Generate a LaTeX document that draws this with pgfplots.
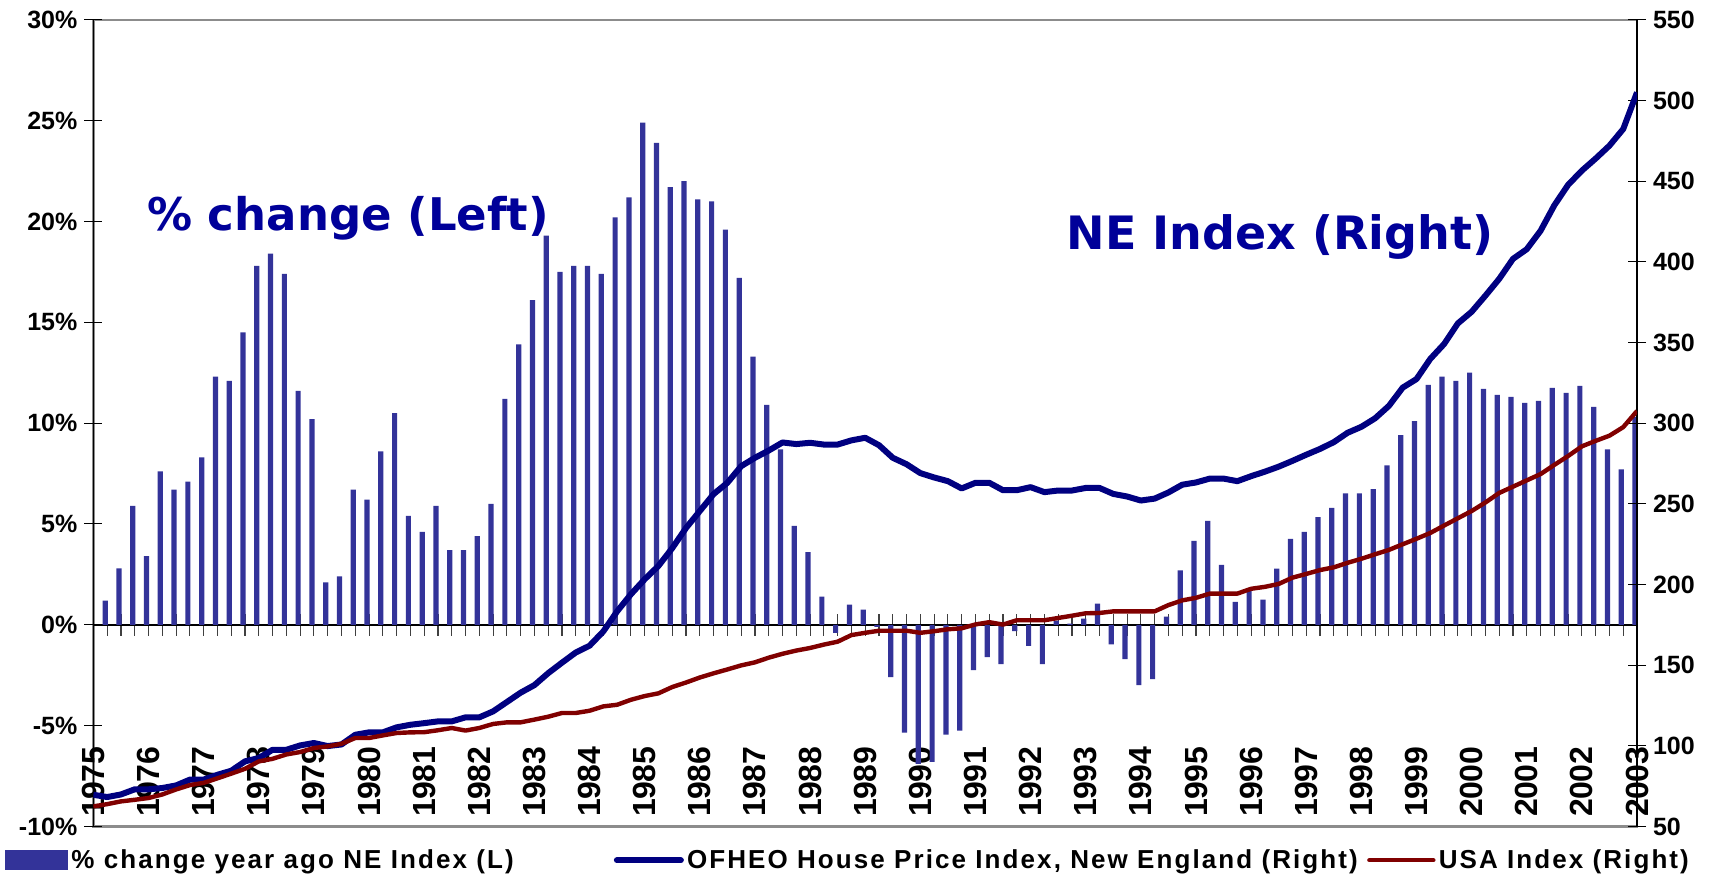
\documentclass[border=0pt]{standalone}
\usepackage{fontspec}
\setmainfont{Liberation Sans}
\newfontfamily\tickfont{Liberation Sans}
\newfontfamily\yearfont{Liberation Sans}[LetterSpace=-2]
\newfontfamily\legfont{Liberation Sans}[LetterSpace=8]
\newfontfamily\annfont{DejaVu Sans}
\usepackage{pgfplots}
\usepackage{pgfplotstable}
\pgfplotsset{compat=1.18}
\definecolor{barblue}{HTML}{333399}
\definecolor{neblue}{HTML}{000080}
\definecolor{usared}{HTML}{800000}
\definecolor{anncol}{HTML}{000099}

\pgfplotstableread{
q v
1 1.2
2 2.8
3 5.9
4 3.4
5 7.6
6 6.7
7 7.1
8 8.3
9 12.3
10 12.1
11 14.5
12 17.8
13 18.4
14 17.4
15 11.6
16 10.2
17 2.1
18 2.4
19 6.7
20 6.2
21 8.6
22 10.5
23 5.4
24 4.6
25 5.9
26 3.7
27 3.7
28 4.4
29 6.0
30 11.2
31 13.9
32 16.1
33 19.3
34 17.5
35 17.8
36 17.8
37 17.4
38 20.2
39 21.2
40 24.9
41 23.9
42 21.7
43 22.0
44 21.1
45 21.0
46 19.6
47 17.2
48 13.3
49 10.9
50 8.7
51 4.9
52 3.6
53 1.4
54 -0.4
55 1.0
56 0.75
57 -0.1
58 -2.6
59 -5.35
60 -6.9
61 -6.8
62 -5.45
63 -5.25
64 -2.25
65 -1.6
66 -1.95
67 -0.32
68 -1.05
69 -1.95
70 0.2
71 0.05
72 0.3
73 1.05
74 -0.97
75 -1.7
76 -3.0
77 -2.7
78 0.4
79 2.7
80 4.16
81 5.15
82 2.97
83 1.13
84 1.7
85 1.25
86 2.78
87 4.26
88 4.6
89 5.34
90 5.79
91 6.52
92 6.52
93 6.72
94 7.9
95 9.4
96 10.1
97 11.9
98 12.3
99 12.1
100 12.5
101 11.7
102 11.4
103 11.3
104 11.0
105 11.1
106 11.75
107 11.5
108 11.85
109 10.8
110 8.7
111 7.7
112 10.3
}\pctdata

\pgfplotstableread{
q ne us
0 69.6 62.4
1 68.2 63.8
2 69.8 65.5
3 73.0 66.5
4 73.0 67.6
5 73.8 69.8
6 75.4 72.9
7 79.0 75.6
8 79.0 77.0
9 82.0 79.8
10 84.5 82.7
11 90.3 85.7
12 92.4 90.3
13 97.5 91.9
14 97.5 94.6
15 100.2 96.1
16 101.7 98.6
17 99.8 99.6
18 100.8 101.2
19 106.8 104.8
20 108.3 104.8
21 108.3 106.4
22 111.4 107.9
23 113.0 108.3
24 114.0 108.4
25 115.1 109.6
26 115.1 111.0
27 117.6 109.4
28 117.6 111.0
29 121.3 113.5
30 127.1 114.5
31 132.9 114.5
32 137.6 116.2
33 145.0 118.0
34 151.5 120.3
35 157.8 120.3
36 162.0 121.7
37 170.9 124.4
38 183.3 125.4
39 193.9 128.5
40 203.2 130.8
41 211.5 132.5
42 222.5 136.4
43 235.0 139.2
44 245.5 142.3
45 256.0 144.9
46 263.0 147.3
47 273.3 149.8
48 278.5 151.7
49 283.0 154.6
50 288.0 157.0
51 287.0 159.0
52 287.8 160.6
53 286.7 162.7
54 286.7 164.5
55 289.3 168.6
56 290.9 170.0
57 286.3 171.3
58 278.5 171.3
59 274.5 171.3
60 269.0 170.0
61 266.3 171.0
62 264.0 172.2
63 259.5 172.8
64 263.0 175.2
65 263.0 176.6
66 258.4 175.1
67 258.4 177.8
68 260.3 177.8
69 257.2 177.8
70 258.2 179.2
71 258.2 180.6
72 259.8 182.1
73 259.8 182.3
74 256.1 183.3
75 254.5 183.3
76 252.0 183.3
77 253.2 183.3
78 257.0 187.2
79 261.8 190.1
80 263.2 191.7
81 265.6 194.3
82 265.6 194.3
83 264.0 194.3
84 267.1 197.3
85 269.9 198.5
86 273.0 200.3
87 276.6 204.2
88 280.4 206.5
89 284.0 208.9
90 288.2 210.6
91 294.0 213.4
92 297.7 215.9
93 303.0 218.7
94 310.7 221.4
95 322.0 224.9
96 327.3 228.3
97 339.8 231.9
98 349.0 236.5
99 361.8 241.0
100 369.0 245.5
101 379.0 250.8
102 389.4 256.7
103 401.8 260.6
104 407.8 264.5
105 419.2 268.4
106 435.0 274.1
107 447.7 279.6
108 456.5 285.6
109 464.0 289.0
110 472.0 292.2
111 482.3 297.5
112 505.0 307.5
}\idxdata

\pgfplotsset{
  frame/.style={at={(46.7pt,26.3pt)}, anchor=south west, scale only axis,
    width=771.8pt, height=403.3pt, xmin=0, xmax=112},
  noarrows/.style={every outer x axis line/.append style={-},
    every inner x axis line/.append style={-},
    every outer y axis line/.append style={-},
    every inner y axis line/.append style={-}},
}
\newcommand{\tickf}{\tickfont\bfseries\fontsize{12.5}{12.5}\selectfont}

\begin{document}
\begin{tikzpicture}
\useasboundingbox (0,0) rectangle (861.5pt,439.5pt);

% frame and year labels
\begin{axis}[frame, ymin=-10, ymax=30,
  axis line style={draw=black!45, line width=1.1pt},
  xtick={0,4,...,112},
  xticklabels={1975,1976,1977,1978,1979,1980,1981,1982,1983,1984,1985,1986,1987,1988,1989,1990,1991,1992,1993,1994,1995,1996,1997,1998,1999,2000,2001,2002,2003},
  major tick length=0pt, ytick=\empty,
  xticklabel style={yshift=4.8pt, rotate=90, anchor=west, inner sep=0pt,
    font=\yearfont\bfseries\fontsize{16}{16}\selectfont}]
\end{axis}

% zero line with quarter ticks
\begin{axis}[frame, noarrows, ymin=-10, ymax=30,
  axis x line=middle, axis y line=none,
  xtick={0,1,...,112}, xticklabels={},
  xtick align=center, major tick length=10.8pt,
  tick style={black!75, line width=0.55pt},
  x axis line style={-, black, line width=0.75pt}]
\end{axis}

% bars, left axis
\begin{axis}[frame, noarrows, ymin=-10, ymax=30,
  axis y line*=left, axis x line=none,
  ytick={-10,-5,0,5,10,15,20,25,30},
  yticklabels={-10\%,-5\%,0\%,5\%,10\%,15\%,20\%,25\%,30\%},
  ytick align=center, major tick length=9pt,
  tick style={black, line width=0.55pt},
  y axis line style={black, line width=0.75pt},
  yticklabel style={font=\tickf}]
\addplot[ybar, bar width=2.6pt, bar shift=-1pt, fill=barblue, draw=none] table[x=q, y=v] {\pctdata};
\end{axis}

% index lines, right axis
\begin{axis}[frame, noarrows, ymin=50, ymax=550,
  axis y line*=right, axis x line=none,
  ytick={50,100,...,550},
  yticklabels={50,100,150,200,250,300,350,400,450,500,550},
  ytick align=center, major tick length=9pt,
  tick style={black, line width=0.55pt},
  y axis line style={black, line width=0.75pt},
  yticklabel style={font=\tickf},
  legend columns=3,
  legend image code/.code={\draw[#1, line cap=round] (0pt,0pt) -- (32pt,0pt);},
  legend style={at={(axis description cs:-0.057,-0.042)}, anchor=west,
    draw=none, fill=none, inner sep=0pt, outer sep=0pt,
    font=\legfont\bfseries\fontsize{13}{13}\selectfont,
    nodes={inner sep=1.6pt},
    /tikz/column 2/.style={column sep=48.5pt},
    /tikz/column 4/.style={column sep=3.1pt}},
  legend cell align=left]
\addlegendimage{legend image code/.code={\fill[barblue] (0pt,-4.75pt) rectangle (31pt,4.75pt);}}
\addplot[neblue, line width=3pt, line join=round] table[x=q, y=ne] {\idxdata};
\addplot[usared, line width=2.2pt, line join=round] table[x=q, y=us] {\idxdata};
\legend{\% change year ago NE Index (L), {OFHEO House Price Index, New England (Right)}, USA Index (Right)}
\end{axis}

\node[font=\annfont\bfseries\fontsize{22.5}{22.5}\selectfont, text=anncol] at (174pt,330.4pt) {\% change (Left)};
\node[font=\annfont\bfseries\fontsize{23}{23}\selectfont, text=anncol] at (640pt,320.9pt) {NE Index (Right)};
\end{tikzpicture}
\end{document}
